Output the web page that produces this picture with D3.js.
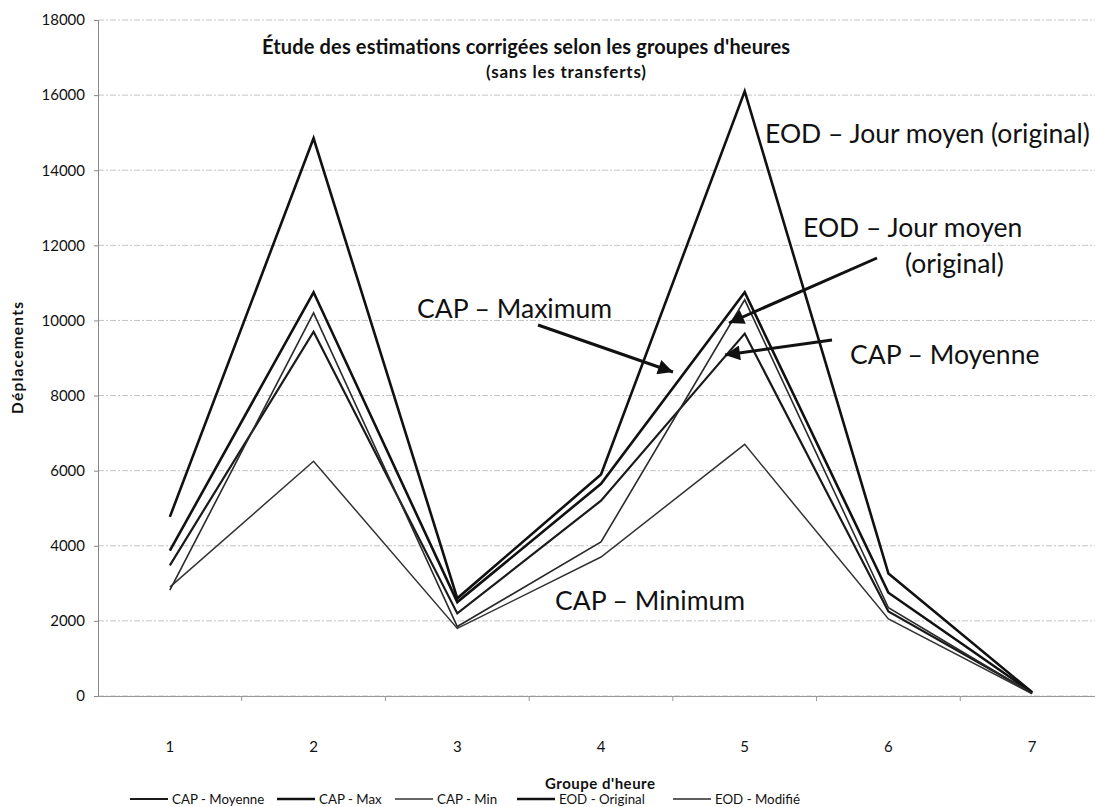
<!DOCTYPE html>
<html><head><meta charset="utf-8">
<script src="https://cdn.jsdelivr.net/npm/d3@7"></script>
<style>body{margin:0;background:#fff}svg{display:block}</style>
</head><body><svg id="c" width="1095" height="807"></svg>
<script>
const categories = [1, 2, 3, 4, 5, 6, 7];
const capMoyenne = [3480, 9700, 2200, 5200, 9650, 2250, 80];
const capMax = [3870, 10750, 2500, 5650, 10750, 2750, 90];
const capMin = [2900, 6250, 1800, 3700, 6700, 2050, 60];
const eodOriginal = [4770, 14850, 2600, 5900, 16100, 3260, 100];
const eodModifie = [2820, 10200, 1850, 4100, 10550, 2350, 70];
const seriesNames = ["CAP - Moyenne", "CAP - Max", "CAP - Min", "EOD - Original", "EOD - Modifié"];
const yTicks = [0, 2000, 4000, 6000, 8000, 10000, 12000, 14000, 16000, 18000];

const series = [
  {name: seriesNames[0], values: capMoyenne, w: 2.2, c: "#1a1a1a"},
  {name: seriesNames[1], values: capMax, w: 2.6, c: "#111"},
  {name: seriesNames[2], values: capMin, w: 1.5, c: "#333"},
  {name: seriesNames[3], values: eodOriginal, w: 2.6, c: "#111"},
  {name: seriesNames[4], values: eodModifie, w: 1.6, c: "#2a2a2a"}
];

const svg = d3.select("#c");
const font = "Lato, 'Open Sans', sans-serif";
const pLeft = 98, pRight = 1104, pTop = 20, pBottom = 696;

const x = d3.scaleBand().domain(categories).range([pLeft, pRight]);
const y = d3.scaleLinear().domain([0, 18000]).range([pBottom, pTop]);

// grid
svg.append("g").selectAll("line").data(yTicks).join("line")
  .attr("x1", pLeft).attr("x2", 1095)
  .attr("y1", d => y(d)).attr("y2", d => y(d))
  .attr("stroke", "#c4c4c4").attr("stroke-width", 1).attr("stroke-dasharray", "6,2,2,2");

// y axis
const ya = svg.append("g").attr("transform", `translate(${pLeft},0)`)
  .call(d3.axisLeft(y).tickValues(yTicks).tickSize(4).tickFormat(d3.format("d")));
ya.select(".domain").attr("stroke", "#888");
ya.selectAll(".tick line").attr("stroke", "#888");
ya.selectAll("text").attr("font-family", font).attr("font-size", 15).attr("fill", "#111").attr("dx", "-6");

// x axis
const xa = svg.append("g").attr("transform", `translate(0,${pBottom})`)
  .call(d3.axisBottom(x).tickSize(0).tickPadding(45));
xa.select(".domain").attr("stroke", "#999");
xa.selectAll("text").attr("font-family", font).attr("font-size", 15).attr("fill", "#111");
// tick marks at band boundaries
svg.append("g").selectAll("line").data(categories.slice(1)).join("line")
  .attr("x1", d => x(d)).attr("x2", d => x(d))
  .attr("y1", pBottom).attr("y2", pBottom + 5).attr("stroke", "#999");

// lines
const line = d3.line().x((d, i) => x(categories[i]) + x.bandwidth() / 2).y(d => y(d));
svg.append("g").selectAll("path").data(series).join("path")
  .attr("d", d => line(d.values)).attr("fill", "none")
  .attr("stroke", d => d.c).attr("stroke-width", d => d.w).attr("stroke-linejoin", "miter");

// titles
svg.append("text").attr("x", 526).attr("y", 54).attr("text-anchor", "middle")
  .attr("font-family", font).attr("font-weight", "bold").attr("font-size", 20).attr("fill", "#111")
  .attr("textLength", 528).attr("lengthAdjust", "spacing")
  .text("Étude des estimations corrigées selon les groupes d'heures");
svg.append("text").attr("x", 566).attr("y", 78).attr("text-anchor", "middle")
  .attr("font-family", font).attr("font-weight", "bold").attr("font-size", 17).attr("fill", "#111")
  .attr("textLength", 160).attr("lengthAdjust", "spacing")
  .text("(sans les transferts)");
svg.append("text").attr("transform", "translate(23,358) rotate(-90)").attr("text-anchor", "middle")
  .attr("font-family", font).attr("font-weight", "bold").attr("font-size", 15.5).attr("fill", "#111")
  .attr("textLength", 112).attr("lengthAdjust", "spacing")
  .text("Déplacements");
svg.append("text").attr("x", 600).attr("y", 789).attr("text-anchor", "middle")
  .attr("font-family", font).attr("font-weight", "bold").attr("font-size", 15).attr("fill", "#111")
  .attr("textLength", 110).attr("lengthAdjust", "spacing")
  .text("Groupe d'heure");

// legend
const legX = [130, 277, 395, 517, 673];
const lg = svg.append("g").selectAll("g").data(series).join("g")
  .attr("transform", (d, i) => `translate(${legX[i]},804)`);
lg.append("line").attr("x1", 0).attr("x2", 38).attr("y1", -5).attr("y2", -5)
  .attr("stroke", d => d.c).attr("stroke-width", d => d.w);
lg.append("text").attr("x", 42).attr("y", 0).attr("font-family", font).attr("font-size", 13.3).attr("fill", "#111")
  .text(d => d.name);

// annotations
const ann = [
  {t: "EOD – Jour moyen (original)", x: 765, y: 143},
  {t: "EOD – Jour moyen", x: 803, y: 237},
  {t: "(original)", x: 905, y: 273},
  {t: "CAP – Maximum", x: 417, y: 318},
  {t: "CAP – Moyenne", x: 850, y: 364},
  {t: "CAP – Minimum", x: 555, y: 610}
];
svg.append("g").selectAll("text").data(ann).join("text")
  .attr("x", d => d.x).attr("y", d => d.y).attr("font-family", font).attr("font-size", 26.5).attr("fill", "#111")
  .text(d => d.t);

// arrows
svg.append("defs").append("marker").attr("id", "ah").attr("viewBox", "0 0 10 10")
  .attr("refX", 10).attr("refY", 5).attr("markerWidth", 6).attr("markerHeight", 5)
  .attr("orient", "auto").attr("markerUnits", "strokeWidth")
  .append("path").attr("d", "M0,0L10,5L0,10z").attr("fill", "#111");
const arrows = [
  [538, 325, 673, 372],
  [877, 258, 729, 323],
  [832, 340, 725, 355]
];
svg.append("g").selectAll("line").data(arrows).join("line")
  .attr("x1", d => d[0]).attr("y1", d => d[1]).attr("x2", d => d[2]).attr("y2", d => d[3])
  .attr("stroke", "#111").attr("stroke-width", 3).attr("marker-end", "url(#ah)");
</script></body></html>
